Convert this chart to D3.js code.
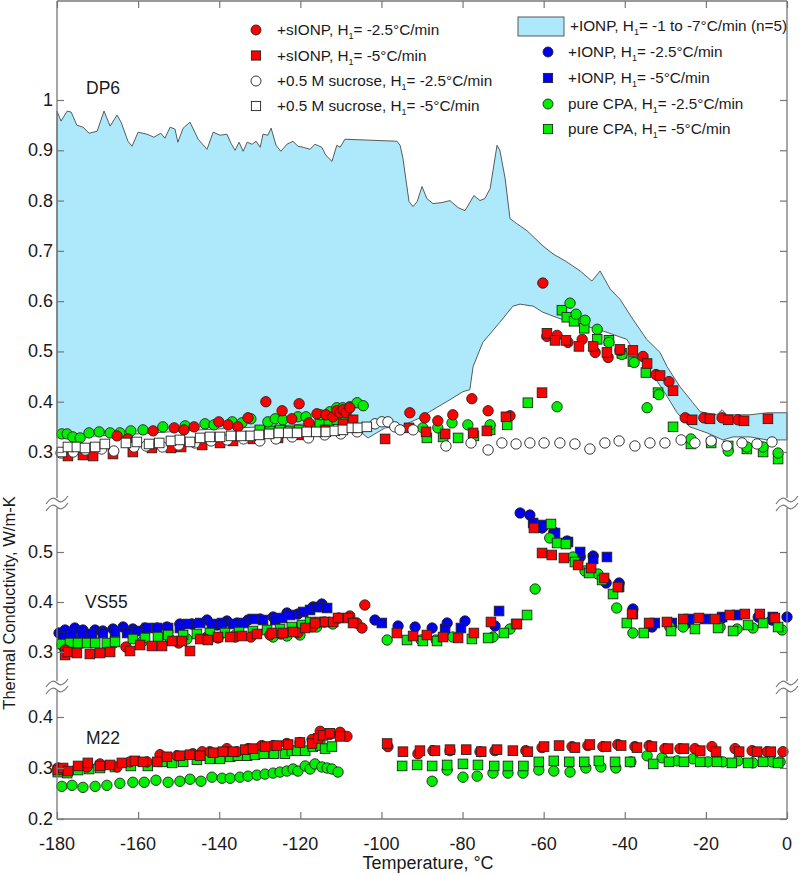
<!DOCTYPE html>
<html>
<head>
<meta charset="utf-8">
<script src="https://cdn.jsdelivr.net/npm/d3@7"></script>
<style>
  body { margin: 0; background: #fff; }
  svg text { font-family: "Liberation Sans", Arial, sans-serif; fill: #1a1a1a; }
</style>
</head>
<body>
<div id="chart"></div>
<script>

// ---- data (temperature in °C, conductivity in W/m-K) ----

const xTicks = [-180, -160, -140, -120, -100, -80, -60, -40, -20, 0];
const dp6Ticks = [0.3, 0.4, 0.5, 0.6, 0.7, 0.8, 0.9, 1.0];
const vs55Ticks = [0.3, 0.4, 0.5];
const m22Ticks = [0.2, 0.3, 0.4];

// +IONP envelope (n=5), DP6
const dp6BandUpper = [[-180,0.978],[-179.0,0.958],[-177.5,0.978],[-176.5,0.976],[-175.1,0.950],[-173.6,0.946],[-172.1,0.934],[-170.1,0.938],[-168.4,0.978],[-166.9,0.948],[-165.2,0.970],[-164.2,0.956],[-162.5,0.918],[-161.5,0.908],[-160.0,0.936],[-157.8,0.932],[-156.1,0.926],[-154.4,0.934],[-153.4,0.924],[-152.1,0.946],[-150.9,0.942],[-150.2,0.916],[-148.9,0.944],[-147.2,0.956],[-145.2,0.922],[-143.0,0.902],[-141.5,0.936],[-139.8,0.930],[-138.1,0.932],[-137.1,0.914],[-136.1,0.900],[-135.1,0.916],[-134.1,0.898],[-133.1,0.916],[-131.9,0.912],[-130.9,0.918],[-129.9,0.906],[-129.2,0.932],[-128.0,0.930],[-127.2,0.944],[-126.0,0.910],[-124.8,0.898],[-123.3,0.912],[-121.8,0.918],[-120.6,0.908],[-119.3,0.906],[-117.6,0.902],[-116.4,0.912],[-114.7,0.906],[-113.7,0.890],[-112.2,0.878],[-111.0,0.910],[-110.2,0.906],[-109.0,0.922],[-96.2,0.918],[-95.4,0.910],[-94.7,0.884],[-93.2,0.798],[-92.2,0.788],[-91.2,0.798],[-90.0,0.828],[-88.8,0.804],[-87.3,0.794],[-85.1,0.796],[-83.1,0.800],[-81.1,0.786],[-79.4,0.780],[-77.2,0.810],[-75.7,0.800],[-74.5,0.804],[-73.2,0.824],[-71.5,0.910],[-70.8,0.900],[-69.5,0.844],[-68.3,0.764],[-66.6,0.754],[-64.1,0.740],[-60.2,0.710],[-57.7,0.694],[-54.3,0.678],[-51.0,0.660],[-48.1,0.640],[-46.1,0.660],[-45.4,0.650],[-43.6,0.624],[-41.2,0.604],[-38.0,0.564],[-34.6,0.524],[-31.3,0.498],[-29.6,0.470],[-26.4,0.430],[-23.2,0.398],[-21.4,0.380],[-17.3,0.374],[-16.0,0.384],[-14.8,0.374],[-9.1,0.374],[-4.9,0.378],[0,0.378]];
const dp6BandLower = [[-180,0.328],[-160,0.336],[-144.7,0.344],[-125,0.352],[-109.0,0.362],[-107.8,0.356],[-103.3,0.328],[-99.1,0.348],[-95.4,0.350],[-90.5,0.368],[-87.3,0.384],[-83.1,0.404],[-79.9,0.420],[-78.2,0.424],[-77.4,0.470],[-75.0,0.518],[-70.8,0.558],[-67.6,0.590],[-65.8,0.594],[-62.6,0.590],[-60.2,0.578],[-54.3,0.560],[-49.3,0.550],[-44.4,0.538],[-39.5,0.524],[-38.0,0.504],[-34.5,0.470],[-30.6,0.424],[-27.1,0.378],[-24.0,0.350],[-19.7,0.338],[-15.8,0.324],[-13.3,0.330],[-9.1,0.330],[-4.9,0.324],[0,0.324]];

// DP6 scatter
const dp6GreenSq = [[-130.0,0.344],[-127.5,0.342],[-125.0,0.344],[-122.5,0.342],[-120.3,0.344],[-117.6,0.350],[-115.2,0.356],[-113.0,0.360],[-111.0,0.364],[-109.0,0.370],[-88.8,0.328],[-84.8,0.330],[-81.1,0.328],[-77.2,0.332],[-73.2,0.344],[-69.0,0.354],[-63.9,0.398],[-55.5,0.582],[-54.3,0.568],[-52.5,0.560],[-50.0,0.546],[-46.8,0.524],[-43.9,0.522],[-40.7,0.496],[-38.0,0.480],[-34.8,0.458],[-31.8,0.418],[-28.1,0.350],[-23.7,0.316],[-18.7,0.318],[-14.5,0.312],[-9.9,0.306],[-5.9,0.300],[-2.2,0.286]];
const dp6GreenCirc = [[-178.8,0.336],[-177.5,0.336],[-176.1,0.330],[-174.3,0.328],[-172.1,0.338],[-169.6,0.340],[-166.9,0.338],[-164.5,0.338],[-161.8,0.342],[-158.8,0.344],[-153.9,0.350],[-148.4,0.352],[-143.5,0.356],[-141.3,0.354],[-136.8,0.360],[-134.4,0.358],[-132.2,0.366],[-128.0,0.360],[-126.2,0.366],[-124.3,0.364],[-120.6,0.370],[-118.6,0.370],[-115.1,0.374],[-112.7,0.380],[-111.0,0.388],[-109.5,0.388],[-107.8,0.390],[-106.0,0.398],[-104.5,0.392],[-89.8,0.348],[-86.1,0.348],[-82.6,0.358],[-78.7,0.354],[-73.2,0.354],[-56.7,0.390],[-53.5,0.596],[-52.0,0.574],[-49.8,0.562],[-46.8,0.544],[-43.9,0.518],[-40.7,0.494],[-37.7,0.478],[-34.5,0.388],[-31.6,0.414],[-23.7,0.326],[-14.5,0.302],[-9.9,0.310],[-5.9,0.310],[-2.2,0.298]];
const dp6RedSq = [[-177.3,0.292],[-173.6,0.294],[-171.1,0.292],[-166.2,0.296],[-161.3,0.300],[-156.6,0.308],[-151.9,0.308],[-149.4,0.310],[-144.2,0.314],[-139.8,0.318],[-136.6,0.322],[-131.7,0.326],[-125.5,0.328],[-119.6,0.334],[-113.9,0.344],[-109.5,0.356],[-107.0,0.364],[-99.1,0.326],[-93.2,0.348],[-89.0,0.340],[-84.3,0.336],[-77.4,0.338],[-74.0,0.342],[-69.3,0.370],[-60.4,0.418],[-59.2,0.536],[-57.2,0.522],[-54.5,0.522],[-51.3,0.510],[-47.8,0.510],[-44.4,0.498],[-41.2,0.504],[-38.0,0.502],[-34.5,0.476],[-31.3,0.452],[-28.1,0.422],[-23.4,0.364],[-19.0,0.366],[-14.5,0.364],[-10.6,0.362],[-4.7,0.366]];
const dp6RedCirc = [[-165.2,0.332],[-162.5,0.326],[-156.3,0.342],[-151.1,0.348],[-148.7,0.344],[-146.2,0.350],[-140.1,0.360],[-137.8,0.354],[-135.4,0.350],[-132.9,0.368],[-128.5,0.400],[-124.5,0.382],[-122.1,0.366],[-120.3,0.396],[-117.9,0.358],[-115.9,0.376],[-113.7,0.374],[-112.0,0.370],[-111.0,0.382],[-110.2,0.378],[-109.5,0.384],[-108.7,0.378],[-107.8,0.388],[-93.0,0.378],[-89.3,0.368],[-86.1,0.362],[-82.4,0.374],[-77.7,0.406],[-73.7,0.382],[-68.3,0.372],[-60.2,0.636],[-59.2,0.530],[-56.7,0.532],[-54.0,0.518],[-50.5,0.524],[-47.3,0.498],[-44.1,0.488],[-41.2,0.502],[-35.5,0.490],[-32.3,0.454],[-29.1,0.440],[-25.1,0.368],[-20.5,0.368],[-16.0,0.368],[-12.1,0.364]];
const dp6SucSq = [[-178.8,0.300],[-177.3,0.310],[-175.1,0.310],[-173.1,0.308],[-170.6,0.310],[-168.2,0.316],[-163.0,0.318],[-160.3,0.320],[-157.3,0.316],[-154.8,0.318],[-151.9,0.322],[-149.7,0.324],[-147.2,0.320],[-144.7,0.328],[-142.3,0.330],[-139.8,0.330],[-137.1,0.332],[-134.6,0.332],[-132.2,0.332],[-130.2,0.334],[-127.7,0.336],[-125.3,0.338],[-123.0,0.338],[-120.8,0.338],[-118.4,0.340],[-116.1,0.340],[-113.7,0.340],[-111.5,0.342],[-109.5,0.344],[-107.3,0.348],[-105.8,0.348],[-103.6,0.350]];
const dp6SucCirc = [[-179.0,0.298],[-176.0,0.300],[-173.0,0.304],[-169.0,0.306],[-166.0,0.302],[-161.0,0.310],[-158.0,0.312],[-154.0,0.310],[-150.0,0.314],[-146.0,0.318],[-142.0,0.322],[-138.0,0.324],[-134.0,0.326],[-130.0,0.322],[-126.0,0.326],[-122.0,0.330],[-118.0,0.328],[-114.0,0.334],[-110.0,0.336],[-106.0,0.340],[-101.6,0.356],[-99.9,0.360],[-98.4,0.360],[-96.7,0.350],[-95.4,0.344],[-92.2,0.344],[-84.1,0.312],[-77.9,0.318],[-73.7,0.304],[-70.3,0.318],[-66.8,0.316],[-63.4,0.318],[-59.9,0.318],[-56.0,0.318],[-52.3,0.316],[-48.6,0.306],[-44.9,0.318],[-41.4,0.322],[-37.5,0.312],[-33.8,0.318],[-30.1,0.318],[-26.1,0.324],[-22.7,0.318],[-18.7,0.322],[-14.8,0.312],[-11.1,0.318],[-7.4,0.316],[-3.7,0.320]];

// VS55 scatter
const vs55BlueCirc = [[-179.5,0.338],[-178.0,0.344],[-175.6,0.348],[-173.6,0.344],[-170.6,0.344],[-168.7,0.342],[-166.2,0.346],[-163.7,0.350],[-161.3,0.346],[-158.3,0.348],[-155.3,0.348],[-152.9,0.350],[-149.7,0.356],[-146.7,0.356],[-143.0,0.364],[-140.5,0.354],[-138.1,0.362],[-135.6,0.358],[-132.9,0.364],[-129.9,0.366],[-126.7,0.370],[-123.3,0.378],[-120.6,0.376],[-116.9,0.390],[-114.7,0.396],[-101.6,0.364],[-95.9,0.352],[-91.7,0.350],[-87.5,0.348],[-83.8,0.358],[-79.4,0.362],[-72.0,0.352],[-65.8,0.578],[-63.4,0.574],[-60.4,0.548],[-57.5,0.540],[-54.2,0.522],[-51.0,0.490],[-47.8,0.492],[-44.6,0.438],[-41.4,0.438],[-38.0,0.386],[-33.3,0.350],[-24.7,0.358],[-16.0,0.368],[-7.1,0.370],[-3.7,0.364],[0,0.370]];
const vs55BlueSq = [[-178.5,0.330],[-176.3,0.336],[-173.8,0.336],[-171.4,0.336],[-168.7,0.338],[-165.7,0.340],[-162.7,0.338],[-160.3,0.342],[-157.8,0.348],[-155.3,0.348],[-152.6,0.348],[-149.7,0.348],[-147.7,0.356],[-144.7,0.358],[-141.8,0.356],[-139.3,0.358],[-136.6,0.356],[-133.9,0.358],[-131.7,0.366],[-129.2,0.364],[-126.2,0.364],[-124.5,0.368],[-122.5,0.374],[-119.3,0.380],[-117.6,0.384],[-115.9,0.390],[-114.7,0.390],[-113.4,0.388],[-99.9,0.358],[-84.3,0.346],[-80.4,0.348],[-71.0,0.382],[-62.6,0.558],[-60.2,0.554],[-57.2,0.538],[-54.0,0.520],[-51.0,0.500],[-47.8,0.486],[-44.4,0.490],[-41.4,0.430],[-38.0,0.376],[-32.6,0.358],[-28.4,0.358],[-24.2,0.366],[-20.2,0.366],[-16.0,0.370],[-12.3,0.374],[-3.5,0.370]];
const vs55GreenCirc = [[-178.8,0.314],[-174.0,0.318],[-166.0,0.318],[-158.8,0.322],[-152.0,0.324],[-148.0,0.326],[-143.0,0.330],[-136.0,0.334],[-126.7,0.330],[-123.3,0.332],[-120.1,0.334],[-116.0,0.350],[-112.0,0.356],[-98.6,0.324],[-90.2,0.324],[-86.5,0.324],[-82.4,0.330],[-72.5,0.330],[-68.3,0.346],[-62.1,0.426],[-58.5,0.528],[-52.8,0.490],[-49.8,0.462],[-46.6,0.456],[-42.0,0.388],[-38.0,0.338],[-28.9,0.350],[-25.6,0.350],[-16.5,0.350],[-12.3,0.346],[-8.4,0.348],[-1.2,0.344]];
const vs55GreenSq = [[-178.8,0.316],[-176.8,0.318],[-174.8,0.318],[-172.6,0.318],[-170.6,0.318],[-167.7,0.318],[-165.7,0.320],[-161.3,0.326],[-158.3,0.328],[-155.1,0.330],[-152.6,0.334],[-148.9,0.334],[-145.5,0.336],[-142.3,0.338],[-138.6,0.338],[-135.1,0.340],[-131.7,0.342],[-128.2,0.344],[-125.0,0.346],[-122.1,0.350],[-119.6,0.354],[-117.6,0.360],[-115.1,0.360],[-93.7,0.324],[-89.8,0.322],[-86.3,0.322],[-77.7,0.326],[-73.7,0.328],[-69.8,0.338],[-66.8,0.356],[-64.1,0.374],[-58.2,0.556],[-56.7,0.518],[-54.5,0.516],[-52.3,0.480],[-48.8,0.458],[-45.6,0.444],[-42.9,0.416],[-39.5,0.358],[-35.3,0.338],[-28.6,0.342],[-22.7,0.346],[-17.0,0.348],[-13.3,0.342],[-9.6,0.354],[-5.9,0.358],[-2.2,0.350]];
const vs55RedCirc = [[-178.0,0.304],[-163.0,0.310],[-150.0,0.318],[-143.5,0.326],[-140.3,0.328],[-136.0,0.330],[-132.2,0.330],[-127.5,0.334],[-124.8,0.336],[-120.6,0.338],[-117.0,0.350],[-114.0,0.360],[-110.5,0.368],[-107.8,0.372],[-106.1,0.358],[-104.8,0.348],[-104.1,0.394]];
const vs55RedSq = [[-178.0,0.294],[-177.3,0.300],[-175.1,0.298],[-171.9,0.296],[-169.4,0.298],[-166.9,0.300],[-162.0,0.302],[-159.5,0.314],[-156.6,0.312],[-154.1,0.312],[-151.6,0.322],[-149.2,0.322],[-147.2,0.302],[-144.7,0.326],[-142.8,0.324],[-140.3,0.330],[-137.3,0.330],[-134.4,0.332],[-130.7,0.336],[-127.0,0.338],[-124.3,0.338],[-121.8,0.340],[-118.8,0.348],[-116.4,0.358],[-113.9,0.360],[-111.9,0.360],[-110.7,0.368],[-108.2,0.368],[-107.0,0.358],[-96.2,0.338],[-92.2,0.332],[-88.8,0.334],[-84.8,0.330],[-81.1,0.328],[-77.2,0.338],[-73.0,0.360],[-66.6,0.356],[-62.4,0.548],[-60.4,0.498],[-58.0,0.494],[-55.0,0.488],[-51.5,0.474],[-48.3,0.468],[-45.1,0.448],[-41.7,0.430],[-38.2,0.376],[-34.0,0.358],[-29.6,0.360],[-25.6,0.366],[-21.7,0.368],[-17.7,0.366],[-14.1,0.374],[-10.4,0.376],[-6.7,0.376],[-3.0,0.368]];

// M22 scatter
const m22GreenCirc = [[-178.8,0.264],[-176.3,0.266],[-173.6,0.262],[-170.6,0.264],[-167.7,0.266],[-164.5,0.270],[-161.3,0.272],[-158.5,0.272],[-155.6,0.276],[-152.6,0.272],[-149.7,0.274],[-147.2,0.278],[-144.5,0.274],[-141.8,0.282],[-139.3,0.280],[-137.3,0.280],[-134.9,0.282],[-132.9,0.284],[-130.7,0.286],[-128.7,0.288],[-126.7,0.290],[-125.0,0.292],[-123.3,0.294],[-121.8,0.298],[-120.6,0.294],[-118.8,0.304],[-117.6,0.298],[-116.4,0.308],[-114.7,0.302],[-113.4,0.300],[-112.2,0.298],[-110.7,0.292],[-87.5,0.274],[-83.8,0.296],[-79.9,0.282],[-76.4,0.284],[-72.5,0.290],[-68.8,0.290],[-65.1,0.290],[-61.2,0.296],[-57.5,0.294],[-53.5,0.292],[-49.6,0.300],[-45.9,0.302],[-42.2,0.300],[-38.5,0.312],[-34.5,0.324],[-30.8,0.320],[-27.1,0.314],[-23.2,0.318],[-19.5,0.312],[-15.8,0.312],[-12.1,0.314],[-8.4,0.310],[-3.7,0.312],[-1.7,0.312]];
const m22GreenSq = [[-179.8,0.292],[-177.5,0.290],[-174.8,0.296],[-172.1,0.298],[-169.4,0.300],[-165.7,0.302],[-161.8,0.304],[-157.6,0.304],[-154.1,0.312],[-151.6,0.310],[-148.9,0.312],[-145.5,0.316],[-142.3,0.318],[-139.8,0.318],[-137.3,0.322],[-135.4,0.324],[-133.1,0.324],[-131.2,0.326],[-129.0,0.328],[-126.5,0.328],[-123.8,0.328],[-122.1,0.334],[-120.8,0.334],[-118.8,0.334],[-116.9,0.342],[-115.1,0.344],[-113.9,0.338],[-112.2,0.342],[-94.9,0.304],[-91.2,0.306],[-87.5,0.304],[-83.8,0.306],[-79.9,0.308],[-76.2,0.306],[-72.2,0.304],[-68.8,0.304],[-65.0,0.304],[-61.2,0.312],[-57.5,0.314],[-53.7,0.312],[-50.0,0.312],[-46.4,0.314],[-42.4,0.312],[-38.7,0.312],[-33.0,0.308],[-29.1,0.312],[-25.4,0.312],[-21.4,0.312],[-17.3,0.312],[-13.6,0.310],[-9.6,0.310],[-5.9,0.312],[-2.2,0.310]];
const m22RedCirc = [[-179.8,0.300],[-172.6,0.302],[-169.4,0.308],[-165.2,0.302],[-162.0,0.312],[-157.8,0.312],[-154.6,0.326],[-150.4,0.324],[-146.5,0.328],[-144.2,0.332],[-142.3,0.332],[-138.1,0.338],[-135.6,0.332],[-132.9,0.338],[-129.5,0.344],[-126.7,0.344],[-123.3,0.348],[-120.1,0.350],[-117.1,0.356],[-115.1,0.372],[-112.7,0.366],[-110.2,0.370],[-108.5,0.362],[-98.4,0.342],[-91.0,0.328],[-87.3,0.334],[-83.1,0.334],[-75.7,0.332],[-72.0,0.334],[-64.4,0.334],[-60.4,0.340],[-53.0,0.342],[-49.1,0.344],[-45.4,0.342],[-41.7,0.346],[-37.5,0.342],[-34.0,0.344],[-30.1,0.338],[-26.4,0.338],[-22.7,0.338],[-18.5,0.342],[-12.8,0.338],[-8.6,0.334],[-4.9,0.332],[-1.0,0.332]];
const m22RedSq = [[-179.8,0.296],[-178.5,0.300],[-177.3,0.294],[-174.8,0.304],[-172.4,0.310],[-169.4,0.304],[-166.9,0.306],[-164.0,0.310],[-160.8,0.314],[-158.8,0.312],[-155.3,0.312],[-152.9,0.322],[-149.7,0.324],[-147.2,0.326],[-144.7,0.324],[-141.5,0.330],[-139.1,0.332],[-136.6,0.332],[-133.6,0.336],[-131.7,0.338],[-128.7,0.342],[-125.8,0.344],[-123.0,0.346],[-120.1,0.350],[-117.1,0.348],[-115.6,0.358],[-114.4,0.364],[-112.7,0.368],[-110.2,0.362],[-98.6,0.348],[-94.7,0.332],[-90.5,0.334],[-86.8,0.334],[-83.1,0.336],[-79.1,0.336],[-75.4,0.332],[-71.5,0.336],[-67.6,0.334],[-63.9,0.332],[-59.9,0.342],[-56.2,0.344],[-52.3,0.340],[-48.6,0.346],[-44.6,0.342],[-40.9,0.344],[-37.0,0.340],[-33.3,0.342],[-29.3,0.338],[-25.4,0.338],[-21.4,0.334],[-17.5,0.332],[-11.8,0.332],[-7.4,0.332],[-4.0,0.332]];

// legend entries
const legendLeftNames = ["+sIONP", "+sIONP", "+0.5 M sucrose", "+0.5 M sucrose"];
const legendLeftRates = ["-2.5°C/min", "-5°C/min", "-2.5°C/min", "-5°C/min"];
const legendRightNames = ["+IONP", "+IONP", "+IONP", "pure CPA", "pure CPA"];
const legendRightRates = ["-1 to -7°C/min (n=5)", "-2.5°C/min", "-5°C/min", "-2.5°C/min", "-5°C/min"];


// ---- drawing ----

const RED = "#ff0000", BLUE = "#0000f0", GREEN = "#00ee00", WHITE = "#ffffff";
const BAND = "#ade9fa";
const AXIS = "#777777";

const w = 800, h = 875;
const pLeft = 57, pRight = 787, pTop = 1, pBottom = 819;
const break1 = 503, break2 = 686;

const svg = d3.select("#chart").append("svg")
    .attr("width", w)
    .attr("height", h);

const xScale = d3.scaleLinear().domain([-180, 0]).range([pLeft, pRight]);
const yDP6 = d3.scaleLinear().domain([0.3, 1.0]).range([452, 100]);
const yVS55 = d3.scaleLinear().domain([0.3, 0.5]).range([652, 552]);
const yM22 = d3.scaleLinear().domain([0.2, 0.4]).range([819, 717]);

// band
const bandLine = d3.line()
    .x((d) => xScale(d[0]))
    .y((d) => yDP6(d[1]));
svg.append("path")
    .attr("d", bandLine(dp6BandUpper.concat(dp6BandLower.slice().reverse())) + "Z")
    .attr("fill", BAND)
    .attr("stroke", "#4a4a4a")
    .attr("stroke-width", 0.9);

function drawCircles(data, yScale, color){
    svg.append("g").selectAll("circle")
        .data(data)
        .enter()
        .append("circle")
        .attr("cx", (d) => xScale(d[0]))
        .attr("cy", (d) => yScale(d[1]))
        .attr("r", 5.2)
        .attr("fill", color)
        .attr("stroke", "#222")
        .attr("stroke-width", 0.9);
}

function drawSquares(data, yScale, color){
    const s = 9.6;
    svg.append("g").selectAll("rect")
        .data(data)
        .enter()
        .append("rect")
        .attr("x", (d) => xScale(d[0]) - s/2)
        .attr("y", (d) => yScale(d[1]) - s/2)
        .attr("width", s)
        .attr("height", s)
        .attr("fill", color)
        .attr("stroke", "#222")
        .attr("stroke-width", 0.9);
}

// DP6
drawSquares(dp6GreenSq, yDP6, GREEN);
drawCircles(dp6GreenCirc, yDP6, GREEN);
drawCircles(dp6RedCirc, yDP6, RED);
drawSquares(dp6RedSq, yDP6, RED);
drawCircles(dp6SucCirc, yDP6, WHITE);
drawSquares(dp6SucSq, yDP6, WHITE);

// VS55
drawCircles(vs55BlueCirc, yVS55, BLUE);
drawSquares(vs55BlueSq, yVS55, BLUE);
drawCircles(vs55GreenCirc, yVS55, GREEN);
drawSquares(vs55GreenSq, yVS55, GREEN);
drawCircles(vs55RedCirc, yVS55, RED);
drawSquares(vs55RedSq, yVS55, RED);

// M22
drawCircles(m22GreenCirc, yM22, GREEN);
drawSquares(m22GreenSq, yM22, GREEN);
drawCircles(m22RedCirc, yM22, RED);
drawSquares(m22RedSq, yM22, RED);

// axes: ticks point inward, frame drawn by hand
const fmt = (d) => String(+d.toFixed(1));

function yAxis(yScale, ticks){
    const gl = svg.append("g")
        .attr("transform", "translate(" + pLeft + ",0)")
        .call(d3.axisRight(yScale).tickValues(ticks).tickSize(7).tickFormat(""));
    gl.select(".domain").remove();
    gl.selectAll(".tick line").attr("stroke", AXIS).attr("stroke-width", 1.2);
    ticks.forEach((t) => {
        svg.append("text")
            .attr("x", pLeft - 4)
            .attr("y", yScale(t) + 6)
            .attr("text-anchor", "end")
            .attr("font-size", 18)
            .text(fmt(t));
    });
    const gr = svg.append("g")
        .attr("transform", "translate(" + pRight + ",0)")
        .call(d3.axisLeft(yScale).tickValues(ticks).tickSize(7).tickFormat(""));
    gr.select(".domain").remove();
    gr.selectAll(".tick line").attr("stroke", AXIS).attr("stroke-width", 1.2);
}
yAxis(yDP6, dp6Ticks);
yAxis(yVS55, vs55Ticks);
yAxis(yM22, m22Ticks);

const gb = svg.append("g")
    .attr("transform", "translate(0," + pBottom + ")")
    .call(d3.axisTop(xScale).tickValues(xTicks).tickSize(7).tickFormat(""));
gb.select(".domain").remove();
gb.selectAll(".tick line").attr("stroke", AXIS).attr("stroke-width", 1.2);
xTicks.forEach((t) => {
    svg.append("text")
        .attr("x", xScale(t))
        .attr("y", pBottom + 31)
        .attr("text-anchor", "middle")
        .attr("font-size", 18)
        .text(t);
});
const gt = svg.append("g")
    .attr("transform", "translate(0," + pTop + ")")
    .call(d3.axisBottom(xScale).tickValues(xTicks).tickSize(7).tickFormat(""));
gt.select(".domain").remove();
gt.selectAll(".tick line").attr("stroke", AXIS).attr("stroke-width", 1.2);

// frame with breaks
const gap = 5;
const segs = [[pTop, break1 - gap], [break1 + gap, break2 - gap], [break2 + gap, pBottom]];
[pLeft, pRight].forEach((xx) => {
    segs.forEach((s) => {
        svg.append("line")
            .attr("x1", xx).attr("x2", xx)
            .attr("y1", s[0]).attr("y2", s[1])
            .attr("stroke", AXIS).attr("stroke-width", 1.3);
    });
});
[pTop, pBottom].forEach((yy) => {
    svg.append("line")
        .attr("x1", pLeft).attr("x2", pRight)
        .attr("y1", yy).attr("y2", yy)
        .attr("stroke", AXIS).attr("stroke-width", 1.3);
});

function tilde(cx, cy){
    return "M" + (cx - 11) + "," + (cy + 4) +
        " Q" + (cx - 5) + "," + (cy - 5) + " " + cx + "," + cy +
        " T" + (cx + 11) + "," + (cy - 4);
}
[break1, break2].forEach((b) => {
    [pLeft, pRight].forEach((xx) => {
        svg.append("path").attr("d", tilde(xx, b - 3))
            .attr("fill", "none").attr("stroke", AXIS).attr("stroke-width", 1.2);
        svg.append("path").attr("d", tilde(xx, b + 4))
            .attr("fill", "none").attr("stroke", AXIS).attr("stroke-width", 1.2);
    });
});

// axis titles
svg.append("text")
    .attr("x", 428)
    .attr("y", 869)
    .attr("text-anchor", "middle")
    .attr("font-size", 18)
    .text("Temperature, °C");
svg.append("text")
    .attr("transform", "translate(15,603) rotate(-90)")
    .attr("text-anchor", "middle")
    .attr("font-size", 16.5)
    .text("Thermal Conductivity, W/m-K");

// panel labels
svg.append("text").attr("x", 86).attr("y", 94).attr("font-size", 17.5).text("DP6");
svg.append("text").attr("x", 85).attr("y", 608).attr("font-size", 17.5).text("VS55");
svg.append("text").attr("x", 86).attr("y", 744).attr("font-size", 17.5).text("M22");

// legends
function legendText(xx, yy, name, rate){
    const t = svg.append("text")
        .attr("x", xx)
        .attr("y", yy + 5)
        .attr("font-size", 15.3);
    t.append("tspan").text(name + ", H");
    t.append("tspan").attr("font-size", 9).attr("dy", 4).text("1");
    t.append("tspan").attr("dy", -4).text("= " + rate);
}

function legendMarker(xx, yy, shape, color){
    if(shape == "circle"){
        svg.append("circle").attr("cx", xx).attr("cy", yy).attr("r", 5)
            .attr("fill", color).attr("stroke", "#222").attr("stroke-width", 0.9);
    } else {
        svg.append("rect").attr("x", xx - 4.6).attr("y", yy - 4.6)
            .attr("width", 9.2).attr("height", 9.2)
            .attr("fill", color).attr("stroke", "#222").attr("stroke-width", 0.9);
    }
}

const leftRows = [30, 55.5, 81, 106];
const leftMarks = [["circle", RED], ["square", RED], ["circle", WHITE], ["square", WHITE]];
legendLeftNames.forEach((n, i) => {
    legendMarker(256, leftRows[i], leftMarks[i][0], leftMarks[i][1]);
    legendText(277, leftRows[i], n, legendLeftRates[i]);
});

const rightRows = [26, 52, 78, 104, 129];
const rightMarks = [["band", BAND], ["circle", BLUE], ["square", BLUE], ["circle", GREEN], ["square", GREEN]];
legendRightNames.forEach((n, i) => {
    if(rightMarks[i][0] == "band"){
        svg.append("rect").attr("x", 518).attr("y", 17).attr("width", 46).attr("height", 19)
            .attr("fill", BAND).attr("stroke", "#4a4a4a").attr("stroke-width", 0.9);
        legendText(570, rightRows[i], n, legendRightRates[i]);
    } else {
        legendMarker(548, rightRows[i], rightMarks[i][0], rightMarks[i][1]);
        legendText(568, rightRows[i], n, legendRightRates[i]);
    }
});

</script>
</body>
</html>
